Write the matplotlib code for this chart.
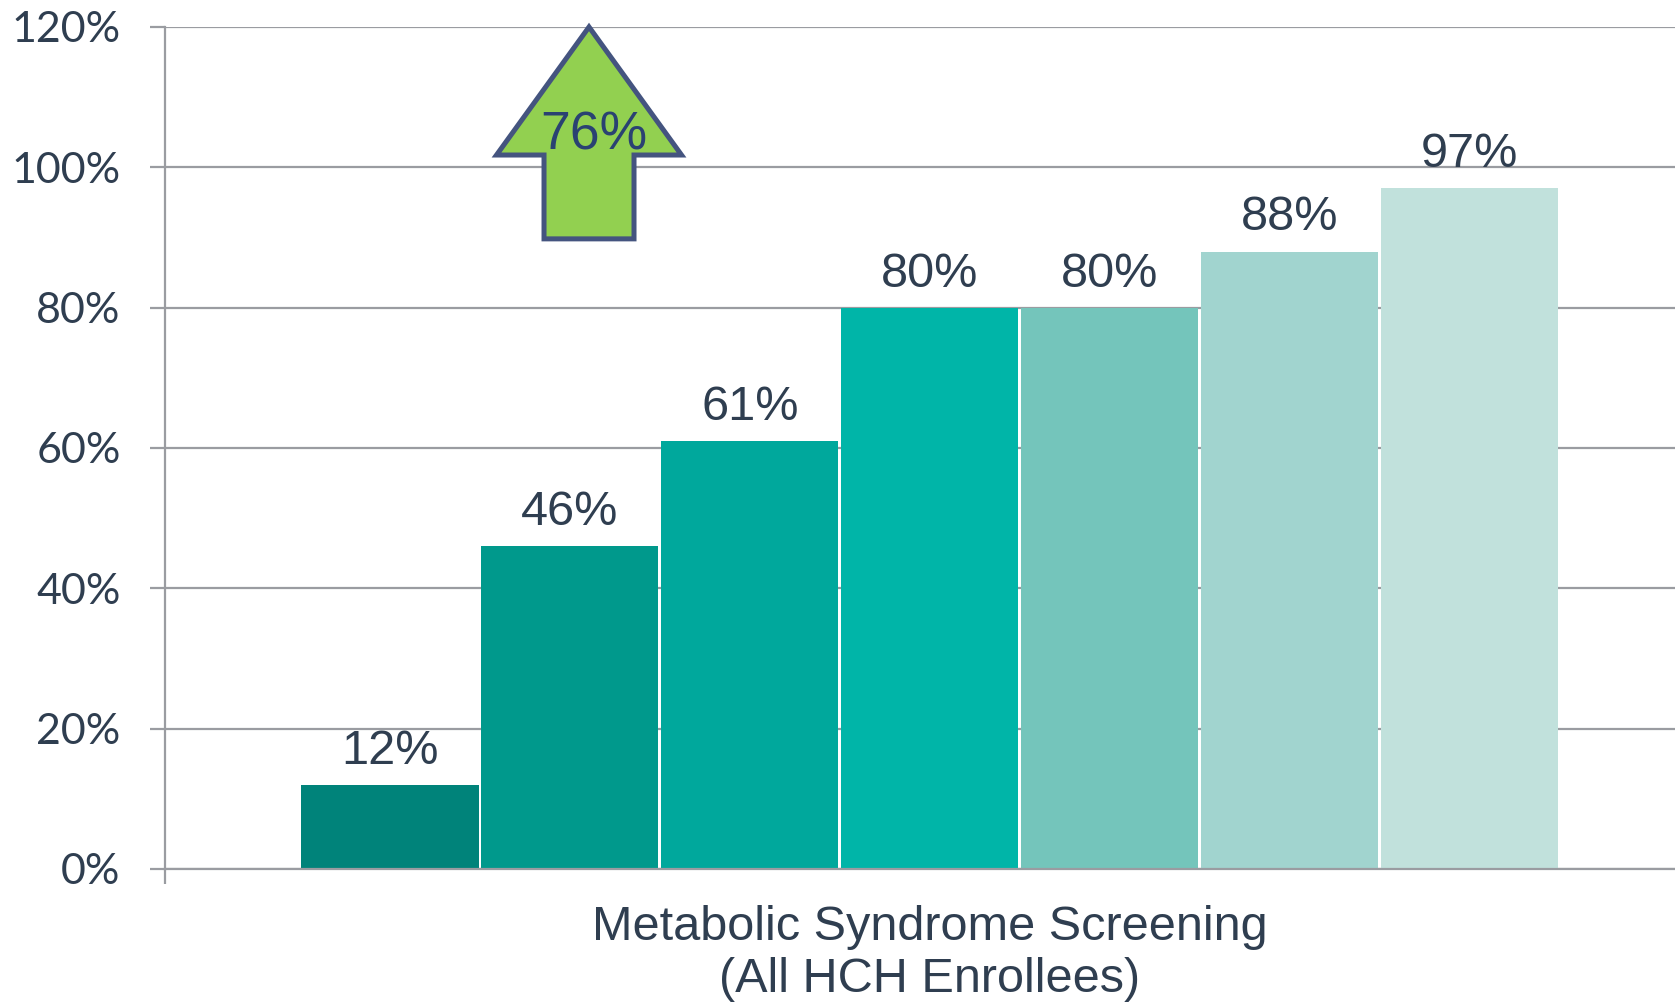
import matplotlib.pyplot as plt
from matplotlib.patches import FancyArrow

# screening rate per period
values = [12, 46, 61, 80, 80, 88, 97]
bar_colors = ["#00837A", "#00998C", "#00A89C", "#00B5A8", "#74C5BB", "#A1D4CF", "#C1E1DC"]
y_ticks = [0, 20, 40, 60, 80, 100, 120]
category_label = "Metabolic Syndrome Screening\n(All HCH Enrollees)"
increase_label = "76%"

text_color = "#2F3E50"
grid_color = "#9A9CA1"

fig = plt.figure(figsize=(16.75, 10.06), dpi=100)
ax = fig.add_axes([0.0985, 0.1362, 0.9015, 0.837])

x = list(range(len(values)))
ax.bar(x, values, width=0.984, color=bar_colors, zorder=3)

for xi, v in zip(x, values):
    ax.text(xi, v + 3.0, f"{v}%", ha="center", va="baseline",
            fontsize=35, family="Liberation Sans", color=text_color, zorder=4)

ax.set_xlim(-1.25, 7.14)
ax.set_ylim(0, 120)

# gridlines every 20%
ax.set_yticks(y_ticks)
ax.set_yticklabels([f"{t}%" for t in y_ticks], fontsize=31, family="Lato", color=text_color)
ax.yaxis.grid(True, color=grid_color, linewidth=1.6, zorder=0)
ax.tick_params(axis="y", length=11, width=1.6, color=grid_color, pad=21)

ax.set_xticks([3])
ax.set_xticklabels([category_label], fontsize=35, family="Liberation Sans",
                   color=text_color, linespacing=1.2)
ax.tick_params(axis="x", which="major", length=0, pad=26)
ax.set_xticks([-1.25], minor=True)
ax.tick_params(axis="x", which="minor", length=10.5, width=1.6, color=grid_color)

for side in ["top", "right"]:
    ax.spines[side].set_visible(False)
for side in ["left", "bottom"]:
    ax.spines[side].set_color(grid_color)
    ax.spines[side].set_linewidth(1.6)
ax.spines["bottom"].set_zorder(5)

# green arrow marking the overall increase
arrow = FancyArrow(1.106, 89.8, 0, 30.2, width=0.5, head_width=1.028,
                   head_length=18.25, length_includes_head=True,
                   facecolor="#92D050", edgecolor="#44547F", linewidth=3.6,
                   joinstyle="miter", clip_on=False, zorder=6)
ax.add_patch(arrow)
ax.text(1.13, 102.6, increase_label, ha="center", va="baseline", fontsize=38.5,
        family="Liberation Sans", color="#2A4272", zorder=7)

fig.savefig("out.png", dpi=100)
